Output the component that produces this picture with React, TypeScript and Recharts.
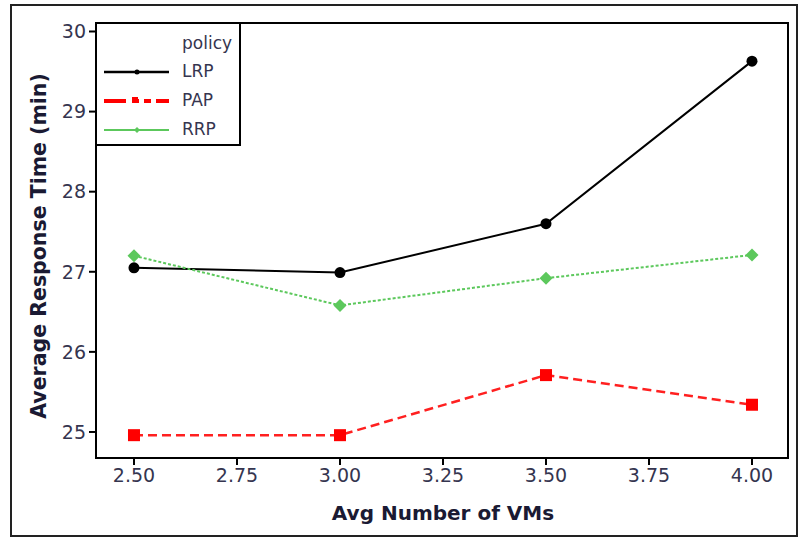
import { LineChart, Line, XAxis, YAxis, ReferenceArea } from 'recharts'

const VMS = [2.5, 3.0, 3.5, 4.0]
const LRP = [27.05, 26.99, 27.6, 29.63]
const PAP = [24.96, 24.96, 25.71, 25.34]
const RRP = [27.2, 26.58, 26.92, 27.21]
const X_TICKS = [2.5, 2.75, 3.0, 3.25, 3.5, 3.75, 4.0]
const Y_TICKS = [25, 26, 27, 28, 29, 30]
const X_DOMAIN: [number, number] = [2.4078, 4.0874]
const Y_DOMAIN: [number, number] = [24.675, 30.106]

const FONT = '"DejaVu Sans", Verdana, sans-serif'
const TICK_COLOR = '#35354f'

const data = VMS.map((x, i) => ({ x, LRP: LRP[i], PAP: PAP[i], RRP: RRP[i] }))

function SquareDot(props: any) {
  const { cx, cy } = props
  if (cx == null || cy == null) return null
  return <rect x={cx - 6} y={cy - 6} width={12} height={12} fill="#ff0000" />
}

function DiamondDot(props: any) {
  const { cx, cy } = props
  if (cx == null || cy == null) return null
  const s = 6.5
  return <path d={`M${cx},${cy - s}L${cx + s},${cy}L${cx},${cy + s}L${cx - s},${cy}Z`} fill="#5cc85c" />
}

function LegendBox() {
  const rows = [
    { name: 'LRP', color: '#000', width: 2.5, dash: undefined as string | undefined, marker: 'circle' },
    { name: 'PAP', color: '#ff0000', width: 4, dash: '22 6 7 5 7 5', marker: 'square' },
    { name: 'RRP', color: '#5cc85c', width: 2, dash: undefined, marker: 'diamond' },
  ]
  return (
    <div
      style={{
        position: 'absolute',
        left: 95,
        top: 22,
        width: 146,
        height: 124,
        border: '2px solid #000',
        boxSizing: 'border-box',
        background: '#fff',
        fontFamily: FONT,
        fontSize: 17,
        color: TICK_COLOR,
        lineHeight: '20px',
      }}
    >
      <div style={{ position: 'absolute', left: 85, top: 9 }}>policy</div>
      <svg width={84} height={120} style={{ position: 'absolute', left: 0, top: 0 }}>
        {rows.map((r, i) => {
          const y = 48 + i * 29
          return (
            <g key={r.name}>
              <line x1={7} x2={72} y1={y} y2={y} stroke={r.color} strokeWidth={r.width} strokeDasharray={r.dash} />
              {r.marker === 'circle' && <circle cx={40} cy={y} r={2.5} fill={r.color} />}
              {r.marker === 'square' && <rect x={35} y={y - 4} width={6} height={6} fill={r.color} />}
              {r.marker === 'diamond' && <path d={`M40,${y - 3}L43,${y}L40,${y + 3}L37,${y}Z`} fill={r.color} />}
            </g>
          )
        })}
      </svg>
      {rows.map((r, i) => (
        <div key={r.name} style={{ position: 'absolute', left: 85, top: 37 + i * 29 }}>
          {r.name}
        </div>
      ))}
    </div>
  )
}

export default function App() {
  return (
    <div style={{ position: 'absolute', left: 0, top: 0, width: 801, height: 539, background: '#fff' }}>
      <div
        style={{
          position: 'absolute',
          left: 10,
          top: 4,
          width: 788,
          height: 533,
          border: '2px solid #222',
          boxSizing: 'border-box',
        }}
      />
      <LineChart
        width={801}
        height={539}
        data={data}
        margin={{ top: 23, right: 13, bottom: 41, left: 36 }}
        style={{ position: 'absolute', left: 0, top: 0 }}
      >
        <XAxis
          dataKey="x"
          type="number"
          domain={X_DOMAIN}
          ticks={X_TICKS}
          allowDataOverflow
          height={40}
          tickFormatter={(v: number) => v.toFixed(2)}
          tick={{ fontSize: 19, fill: TICK_COLOR, fontFamily: FONT }}
          tickSize={7}
          tickMargin={4}
          tickLine={{ stroke: '#000', strokeWidth: 2 }}
          axisLine={{ stroke: '#000', strokeWidth: 2 }}
        />
        <YAxis
          type="number"
          domain={Y_DOMAIN}
          ticks={Y_TICKS}
          allowDataOverflow
          width={60}
          tick={{ fontSize: 19, fill: TICK_COLOR, fontFamily: FONT }}
          tickSize={7}
          tickMargin={3}
          tickLine={{ stroke: '#000', strokeWidth: 2 }}
          axisLine={{ stroke: '#000', strokeWidth: 2 }}
        />
        <ReferenceArea
          x1={X_DOMAIN[0]}
          x2={X_DOMAIN[1]}
          y1={Y_DOMAIN[0]}
          y2={Y_DOMAIN[1]}
          fill="none"
          stroke="#000"
          strokeWidth={2}
          fillOpacity={0}
        />
        <Line
          dataKey="LRP"
          stroke="#000"
          strokeWidth={2}
          dot={{ r: 5.5, fill: '#000', stroke: '#000', strokeWidth: 0 }}
          activeDot={false}
          isAnimationActive={false}
        />
        <Line
          dataKey="PAP"
          stroke="#ff2020"
          strokeWidth={2.5}
          strokeDasharray="9 5"
          dot={<SquareDot />}
          activeDot={false}
          isAnimationActive={false}
        />
        <Line
          dataKey="RRP"
          stroke="#5cc85c"
          strokeWidth={2}
          strokeDasharray="3 2"
          dot={<DiamondDot />}
          activeDot={false}
          isAnimationActive={false}
        />
      </LineChart>
      <LegendBox />
      <svg width={801} height={539} style={{ position: 'absolute', left: 0, top: 0, pointerEvents: 'none' }}>
        <text
          x={443}
          y={520}
          textAnchor="middle"
          fontFamily={FONT}
          fontWeight="bold"
          fontSize={20}
          fill="#1a1a33"
        >
          Avg Number of VMs
        </text>
        <text
          x={46}
          y={246}
          textAnchor="middle"
          transform="rotate(-90 46 246)"
          fontFamily={FONT}
          fontWeight="bold"
          fontSize={20.5}
          fill="#1a1a33"
        >
          Average Response Time (min)
        </text>
      </svg>
    </div>
  )
}
